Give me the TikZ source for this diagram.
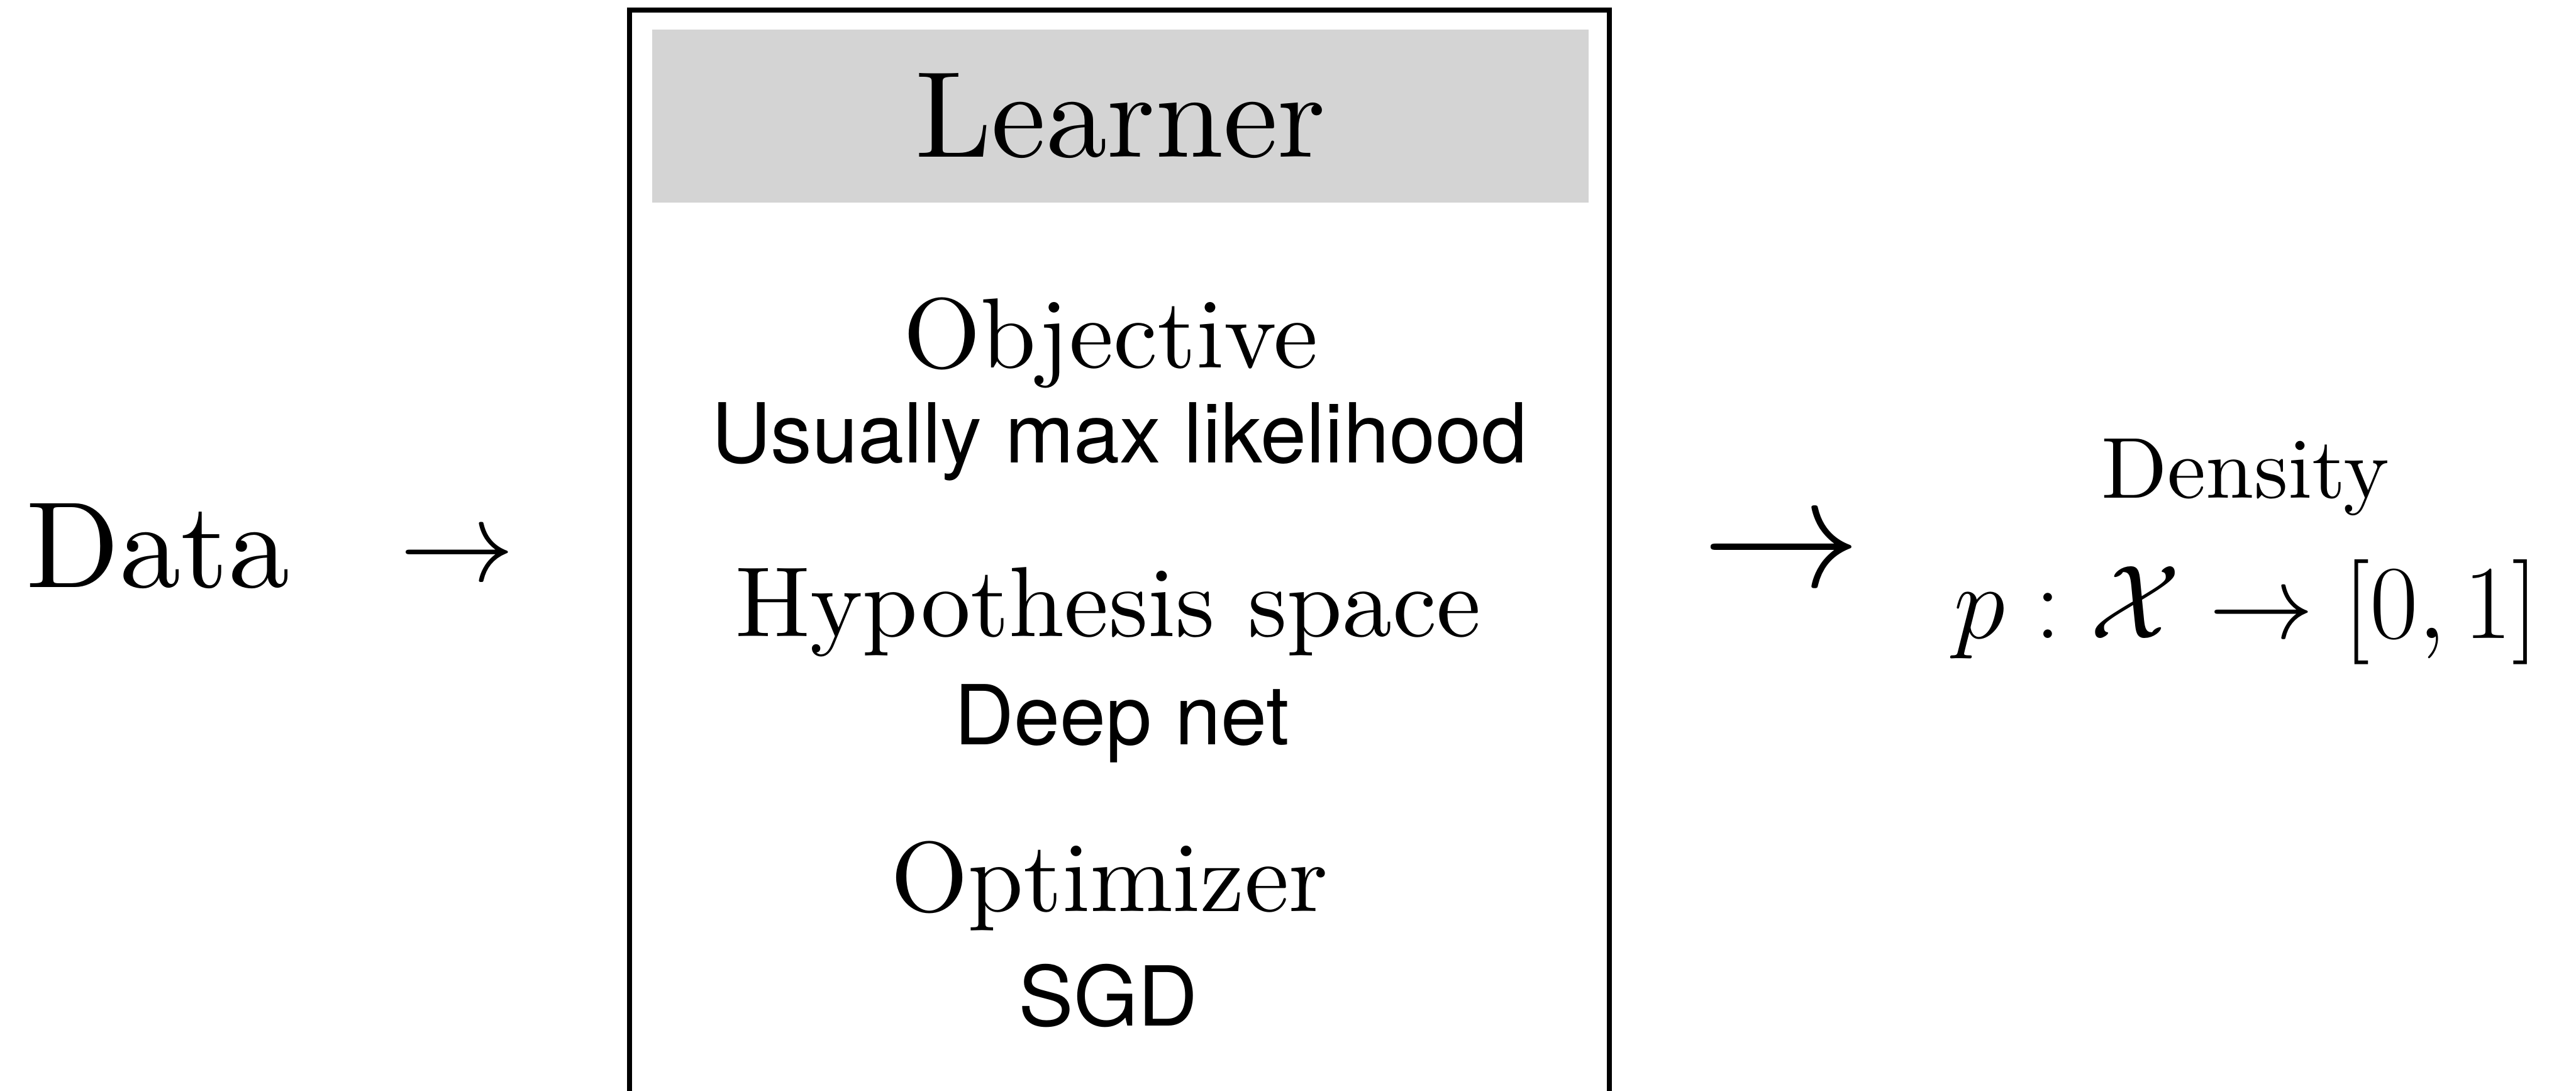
\RequirePackage{fix-cm}
\documentclass[tikz,border=0pt]{standalone}
\usepackage{fontspec}
\setmainfont{lmroman10-regular.otf}
\newfontfamily\helvfont{TeX Gyre Heros}
\definecolor{headgray}{RGB}{212,212,212}

\begin{document}
\begin{tikzpicture}[every node/.style={inner sep=0pt, anchor=base},
frame/.style={draw, line width=0.08cm, anchor=center, minimum width=15.74cm, minimum height=17.84cm},
head/.style={fill=headgray, anchor=center, minimum width=15.04cm, minimum height=2.78cm, font=\fontsize{56}{60}\selectfont},
title/.style={font=\fontsize{45.5}{50}\selectfont},
detail/.style={font=\helvfont\fontsize{37.8}{42}\selectfont}]
\useasboundingbox (0,0) rectangle (41.38,-17.51);
\clip (0,0) rectangle (41.38,-17.51);
\node[frame] (learner) at (17.98,-9.08) {};
\node[head] (head) at (18.00,-1.86) {Learner};
\node[title] (objective) at (17.84,-5.90) {Objective};
\node[detail] (objdetail) at (17.98,-7.43) {Usually max likelihood};
\node[title] (hypothesis) at (17.80,-10.22) {Hypothesis space};
\node[detail] (hypdetail) at (18.02,-11.96) {Deep net};
\node[title] (optimizer) at (17.82,-14.63) {Optimizer};
\node[detail] (optdetail) at (17.80,-16.47) {SGD};
% input side
\node[font=\fontsize{56}{60}\selectfont] (data) at (2.54,-9.43) {Data};
\node[font=\fontsize{52.6}{56}\selectfont] (arrowin) at (7.34,-9.33) {$\rightarrow$};
% output side
\node[font=\fontsize{72.5}{76}\selectfont] (arrowout) at (28.62,-9.42) {$\rightarrow$};
\node[font=\fontsize{39.5}{44}\selectfont] (density) at (36.07,-8.00) {Density};
\node[font=\fontsize{48}{52}\selectfont] (densityfn) at (36.08,-10.25) {$p:\mathcal{X}\rightarrow[0,1]$};
\end{tikzpicture}
\end{document}
